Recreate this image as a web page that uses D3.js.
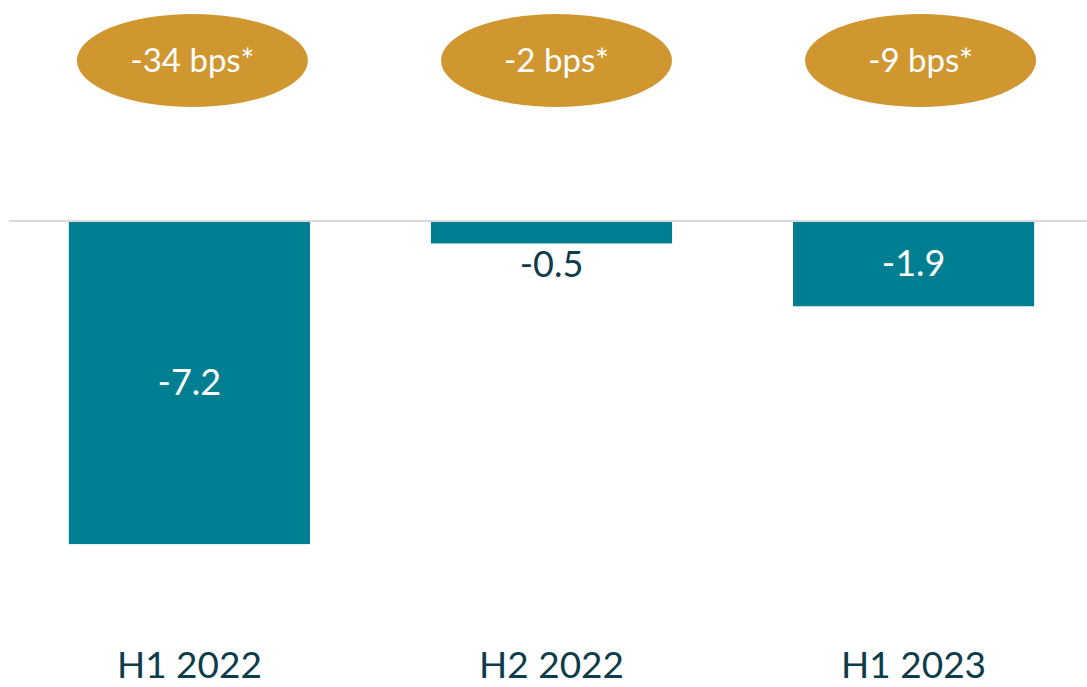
<!DOCTYPE html>
<html>
<head>
<meta charset="utf-8">
<script src="https://cdn.jsdelivr.net/npm/d3@7"></script>
<style>
  body { margin: 0; background: #fff; }
  svg { display: block; font-family: Lato, "Open Sans", sans-serif; }
</style>
</head>
<body>
<svg id="chart" width="1087" height="687"></svg>
<script>
// dados do grafico
const categorias = ["H1 2022", "H2 2022", "H1 2023"];
const valores = [-7.2, -0.5, -1.9];
const rotulosBps = ["-34 bps*", "-2 bps*", "-9 bps*"];

const corBarra = "#007F92";
const corElipse = "#D09731";
const corTexto = "#0D3C4B";

const svg = d3.select("#chart");

const x = d3.scaleBand()
    .domain(categorias)
    .range([8, 1095])
    .paddingInner(0.334)
    .paddingOuter(0.168);

const y = d3.scaleLinear()
    .domain([0, -8])
    .range([221, 580]);

// linha do zero
svg.append("line")
    .attr("x1", 9).attr("x2", 1087)
    .attr("y1", y(0)).attr("y2", y(0))
    .attr("stroke", "#d9d9d9")
    .attr("stroke-width", 2);

// barras
svg.selectAll("rect.barra")
    .data(valores)
    .enter()
    .append("rect")
        .attr("class", "barra")
        .attr("x", (d, i) => x(categorias[i]))
        .attr("y", y(0) + 1)
        .attr("width", x.bandwidth())
        .attr("height", d => y(d) - y(0) - 1)
        .attr("fill", corBarra);

// rotulos de valor: dentro da barra se couber, senao abaixo
svg.selectAll("text.valor")
    .data(valores)
    .enter()
    .append("text")
        .attr("class", "valor")
        .attr("x", (d, i) => x(categorias[i]) + x.bandwidth() / 2)
        .attr("y", d => {
            const alt = y(d) - y(0);
            return alt > 50 ? y(0) + alt / 2 : y(d) + 21;
        })
        .attr("dy", "0.35em")
        .attr("text-anchor", "middle")
        .attr("font-size", 36)
        .attr("fill", d => (y(d) - y(0) > 50 ? "#fff" : corTexto))
        .text(d => d.toFixed(1));

// elipses com bps
const grupos = svg.selectAll("g.bps")
    .data(rotulosBps)
    .enter()
    .append("g")
        .attr("class", "bps")
        .attr("transform", (d, i) => `translate(${x(categorias[i]) + x.bandwidth() / 2 + 3 + i * 2},60.5)`);

grupos.append("ellipse")
    .attr("rx", 115.5)
    .attr("ry", 46.5)
    .attr("fill", corElipse);

grupos.append("text")
    .attr("text-anchor", "middle")
    .attr("dy", "0.35em")
    .attr("font-size", 33)
    .attr("fill", "#fff")
    .text(d => d);

// eixo x (so rotulos)
svg.selectAll("text.categoria")
    .data(categorias)
    .enter()
    .append("text")
        .attr("class", "categoria")
        .attr("x", d => x(d) + x.bandwidth() / 2)
        .attr("y", 678)
        .attr("text-anchor", "middle")
        .attr("font-size", 37)
        .attr("fill", corTexto)
        .text(d => d);
</script>
</body>
</html>
